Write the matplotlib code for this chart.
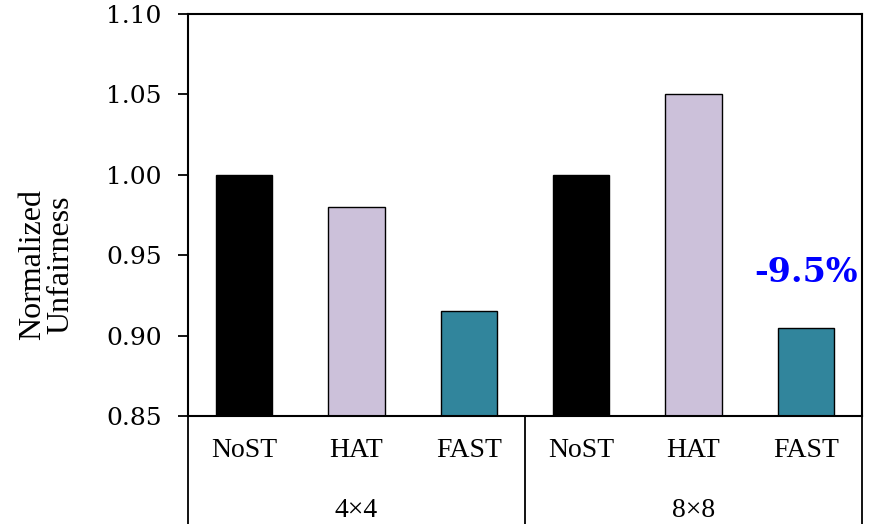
import numpy as np
import matplotlib.pyplot as plt
from matplotlib.lines import Line2D

# data
groups = ['4×4', '8×8']
schemes = ['NoST', 'HAT', 'FAST']
values = [[1.00, 0.98, 0.915],
          [1.00, 1.05, 0.905]]
colors = ['#000000', '#CCC1DA', '#31859C']
note = '-9.5%'

fig = plt.figure(figsize=(8.71, 5.24), dpi=100)
ax = fig.add_axes([188/871, 108/524, 674/871, 402/524])

x = np.arange(len(groups) * len(schemes))
heights = [v for g in values for v in g]
bar_colors = colors * len(groups)
ax.bar(x, heights, width=0.5, color=bar_colors, edgecolor='black', linewidth=1.0)

ax.set_xlim(-0.5, len(x) - 0.5)
ax.set_ylim(0.85, 1.10)
ax.set_yticks(np.arange(0.85, 1.101, 0.05))
ax.set_yticklabels(['%.2f' % t for t in np.arange(0.85, 1.101, 0.05)],
                   family='DejaVu Serif', fontsize=18)
ax.tick_params(axis='y', length=7, width=1.3, pad=12)
ax.set_xticks(x)
ax.set_xticklabels(schemes * len(groups), family='Liberation Serif', fontsize=20)
ax.tick_params(axis='x', length=0, pad=16)

for s in ax.spines.values():
    s.set_linewidth(1.5)

# group separators and labels below axis
for b in [0, 3, 6]:
    xa = b / 6
    ax.add_line(Line2D([xa, xa], [0, -0.27], transform=ax.transAxes,
                       color='black', linewidth=1.3, clip_on=False))
for i, g in enumerate(groups):
    ax.text((i * 3 + 1.5) / 6, -0.235, g, transform=ax.transAxes,
            ha='center', va='center', family='Liberation Serif', fontsize=20)

fig.text(47/871, 1 - 265/524, 'Normalized\nUnfairness', rotation=90,
         ha='center', va='center', family='Liberation Serif', fontsize=23,
         linespacing=0.95)

ax.text(5, 0.939, note, ha='center', va='center', color='#0000FF',
        fontweight='bold', family='DejaVu Serif', fontsize=24)

fig.savefig('out.png', dpi=100)
